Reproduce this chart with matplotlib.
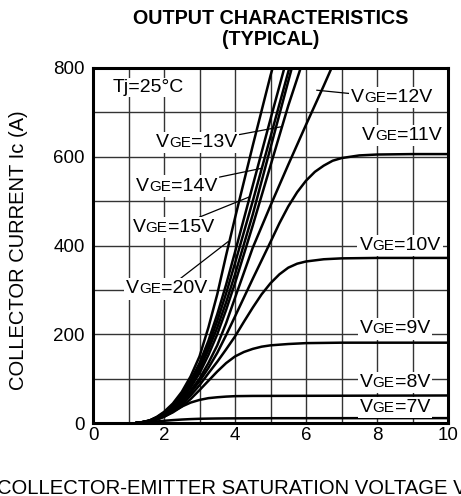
import matplotlib
matplotlib.use('Agg')
import matplotlib.pyplot as plt
from matplotlib.offsetbox import TextArea, HPacker, AnnotationBbox
from matplotlib.ticker import MultipleLocator

FONT = 'Liberation Sans'
plt.rcParams['font.family'] = [FONT, 'DejaVu Sans']

# ---------------- data ----------------
vce_lo = [1.2, 1.4, 1.6, 1.8, 2.0, 2.25, 2.5, 2.75, 3.0, 3.25, 3.5, 3.75, 4.0]

vce_20 = vce_lo + [4.5, 5.0, 5.06]
ic_20 = [0, 2, 6, 14, 25, 44, 70, 105, 150, 215, 290, 378, 462, 625, 783, 800]

vce_15 = vce_lo + [4.5, 5.0, 5.39]
ic_15 = [0, 2, 6, 13, 23, 40, 64, 96, 135, 185, 245, 312, 385, 535, 685, 800]

vce_14 = vce_lo + [4.5, 5.0, 5.53]
ic_14 = [0, 2, 5, 12, 22, 38, 60, 90, 128, 175, 230, 292, 360, 500, 645, 800]

vce_13b = vce_lo + [4.5, 5.0, 5.6]
ic_13b = [0, 2, 5, 12, 21, 36, 57, 85, 120, 165, 215, 272, 335, 470, 620, 800]

vce_13 = vce_lo + [4.5, 5.0, 5.5, 5.85]
ic_13 = [0, 2, 5, 11, 20, 34, 54, 80, 112, 153, 200, 255, 315, 445, 580, 715, 800]

vce_12 = vce_lo + [4.5, 5.0, 5.5, 6.0, 6.5, 6.72]
ic_12 = [0, 2, 5, 11, 19, 32, 50, 73, 100, 135, 175, 225, 282, 395, 490, 582, 672, 760, 800]

vce_11 = vce_lo + [4.5, 5.0, 5.25, 5.5, 5.75, 6.0, 6.25, 6.5, 6.75, 7.0, 7.5, 8.0, 9.0, 10.0]
ic_11 = [0, 2, 5, 11, 18, 30, 47, 68, 94, 124, 158, 198, 240, 325, 408, 450, 488, 520,
         546, 566, 580, 591, 597, 603, 605, 606, 606]

vce_10 = vce_lo + [4.25, 4.5, 4.75, 5.0, 5.25, 5.5, 5.75, 6.0, 6.5, 7.0, 8.0, 10.0]
ic_10 = [0, 1.5, 4, 9, 16, 27, 42, 62, 85, 112, 138, 166, 195, 228, 260, 290, 315, 335,
         350, 359, 364, 369, 371, 372, 372]

vce_9 = vce_lo + [4.25, 4.5, 4.75, 5.0, 5.5, 6.0, 7.0, 10.0]
ic_9 = [0, 1.5, 4, 8, 14, 24, 37, 54, 74, 95, 116, 135, 150, 160, 167, 172, 175, 178,
        180, 181, 181]

vce_8 = vce_lo + [4.5, 10.0]
ic_8 = [0, 1, 3.5, 8, 14, 26, 37, 46, 52, 56, 58, 59.5, 60.5, 61, 62]

vce_7 = vce_lo + [5.0, 10.0]
ic_7 = [0, 0.8, 2, 3.5, 5, 6.5, 7.8, 8.8, 9.5, 9.9, 10.2, 10.4, 10.5, 10.8, 11]

curves = [(vce_20, ic_20), (vce_15, ic_15), (vce_14, ic_14), (vce_13b, ic_13b),
          (vce_13, ic_13), (vce_12, ic_12), (vce_11, ic_11), (vce_10, ic_10),
          (vce_9, ic_9), (vce_8, ic_8), (vce_7, ic_7)]

x_ticks = [0, 2, 4, 6, 8, 10]
y_ticks = [0, 200, 400, 600, 800]

# ---------------- figure ----------------
fig = plt.figure(figsize=(4.61, 4.96), dpi=100)
ax = fig.add_axes([93 / 461, 1 - 423 / 496, 355 / 461, 355 / 496])

for vx, iy in curves:
    ax.plot(vx, iy, color='black', lw=1.8, solid_capstyle='butt', zorder=3)

ax.set_xlim(0, 10)
ax.set_ylim(0, 800)
ax.set_xticks(x_ticks)
ax.set_yticks(y_ticks)
ax.xaxis.set_minor_locator(MultipleLocator(1))
ax.yaxis.set_minor_locator(MultipleLocator(100))
ax.grid(True, which='both', color='#333333', lw=1.0, zorder=1)
ax.set_axisbelow(True)
ax.tick_params(which='both', length=0, labelsize=13.5)
ax.tick_params(axis='y', pad=6)
ax.tick_params(axis='x', pad=3)
for s in ax.spines.values():
    s.set_linewidth(2.2)
    s.set_zorder(6)

# titles / labels
fig.text(270.5 / 461, 1 - 29 / 496, 'OUTPUT CHARACTERISTICS\n(TYPICAL)', ha='center',
         va='center', fontsize=14.2, fontweight='bold', linespacing=1.1)
fig.text(19 / 461, 1 - 250 / 496, 'COLLECTOR CURRENT Ic (A)', rotation=90,
         ha='center', va='center', fontsize=14.5)
fig.text(-3 / 461, 1.5 / 496, 'COLLECTOR-EMITTER SATURATION VOLTAGE VCE(sat) (V)',
         ha='left', va='baseline', fontsize=14.6)

ax.text(1.56, 756, 'Tj=25°C', ha='center', va='center', fontsize=14, zorder=7,
        bbox=dict(fc='white', ec='none', pad=1))


def vge_box(num):
    parts = [TextArea('V', textprops=dict(fontsize=14, family=FONT)),
             TextArea('GE', textprops=dict(fontsize=11, family=FONT)),
             TextArea('=%sV' % num, textprops=dict(fontsize=14, family=FONT))]
    return HPacker(children=parts, align='baseline', pad=0, sep=0)


# (label, box centre, point on curve or None)
labels = [
    ('12', (8.41, 733), (6.30, 750)),
    ('11', (8.70, 647), None),
    ('10', (8.65, 400), None),
    ('9', (8.50, 212), None),
    ('8', (8.50, 92), None),
    ('7', (8.50, 34), None),
    ('13', (2.92, 632), (5.33, 668)),
    ('14', (2.36, 534), (4.75, 574)),
    ('15', (2.26, 440), (4.42, 510)),
    ('20', (2.08, 302), (3.81, 409)),
]
for num, centre, pt in labels:
    kw = dict(xycoords='data', boxcoords='data', frameon=True, pad=0.15,
              bboxprops=dict(fc='white', ec='none'), zorder=7)
    if pt is not None:
        ab = AnnotationBbox(vge_box(num), pt, xybox=centre,
                            arrowprops=dict(arrowstyle='-', lw=0.9, color='black',
                                            shrinkA=0, shrinkB=0), **kw)
    else:
        ab = AnnotationBbox(vge_box(num), centre, **kw)
    ax.add_artist(ab)

fig.savefig('out.png', dpi=100)
